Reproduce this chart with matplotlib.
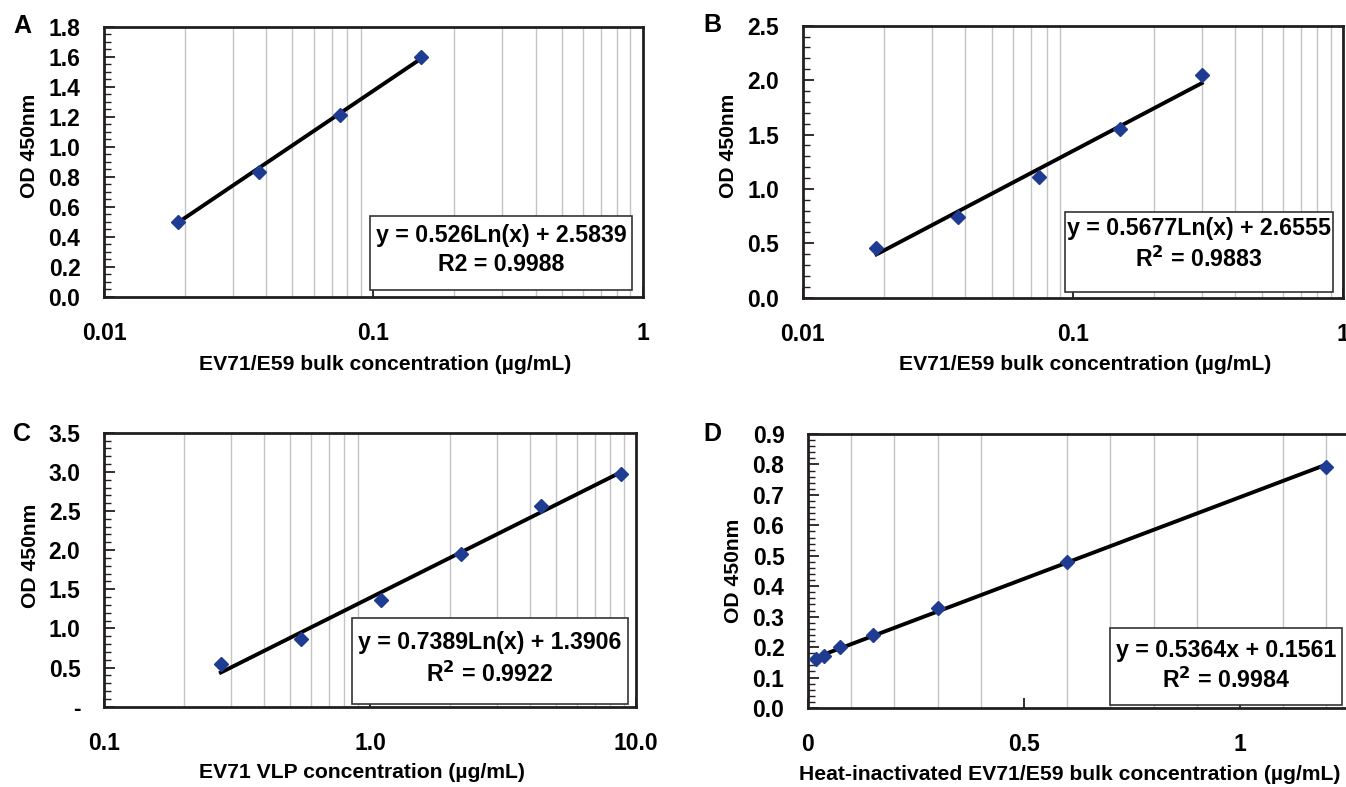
import numpy as np
import matplotlib
matplotlib.use("Agg")
import matplotlib.pyplot as plt
from matplotlib.patches import Rectangle
from matplotlib.ticker import FixedLocator, NullFormatter, MultipleLocator

plt.rcParams['font.family'] = ['Liberation Sans', 'DejaVu Sans']
plt.rcParams['font.weight'] = 'bold'

# ---------------- data ----------------
a_x = [0.01875, 0.0375, 0.075, 0.15]
a_y = [0.50, 0.83, 1.21, 1.60]
a_fit = [0.526, 2.5839]          # y = a*ln(x) + b

b_x = [0.01875, 0.0375, 0.075, 0.15, 0.3]
b_y = [0.46, 0.74, 1.11, 1.55, 2.05]
b_fit = [0.5677, 2.6555]

c_x = [0.275, 0.55, 1.1, 2.2, 4.4, 8.8]
c_y = [0.55, 0.86, 1.36, 1.95, 2.57, 2.97]
c_fit = [0.7389, 1.3906]

d_x = [0.01875, 0.0375, 0.075, 0.15, 0.3, 0.6, 1.2]
d_y = [0.16, 0.17, 0.20, 0.24, 0.33, 0.48, 0.79]
d_fit = [0.5364, 0.1561]         # y = a*x + b

eq_a = ["y = 0.526Ln(x) + 2.5839", "R2 = 0.9988"]
eq_b = ["y = 0.5677Ln(x) + 2.6555", "R$^{2}$ = 0.9883"]
eq_c = ["y = 0.7389Ln(x) + 1.3906", "R$^{2}$ = 0.9922"]
eq_d = ["y = 0.5364x + 0.1561", "R$^{2}$ = 0.9984"]

xlab_ab = "EV71/E59 bulk concentration (µg/mL)"
xlab_c = "EV71 VLP concentration (µg/mL)"
xlab_d = "Heat-inactivated EV71/E59 bulk concentration (µg/mL)"
ylab = "OD 450nm"

W, H = 1346, 787
fig = plt.figure(figsize=(W / 100, H / 100), dpi=100)

MARK = '#1f3c93'
SPINE = '#231f20'
GRID = '#c4c4c4'
TICK_FS = 16.5
LAB_FS = 15.2
EQ_FS = 16.7


def ax_at(l, t, r, b):
    return fig.add_axes([l / W, (H - b) / H, (r - l) / W, (b - t) / H])


def style(ax, ymax, ymaj, ymin, ylabels=None):
    for s in ax.spines.values():
        s.set_linewidth(2.0)
        s.set_color(SPINE)
    ax.set_ylim(0, ymax)
    yt = np.round(np.arange(0, ymax + 1e-9, ymaj), 3)
    ax.set_yticks(yt)
    if ylabels is not None:
        ax.set_yticklabels(ylabels)
    else:
        ax.set_yticklabels([f"{v:.1f}" for v in yt])
    ax.yaxis.set_minor_locator(MultipleLocator(ymin))
    ax.tick_params(axis='y', which='major', direction='in', length=8, width=1.3,
                   color=SPINE, labelsize=TICK_FS, pad=17, right=False)
    ax.tick_params(axis='y', which='minor', direction='in', length=5, width=1.0,
                   color=SPINE, right=False)
    ax.tick_params(axis='x', which='major', direction='in', length=7, width=1.3,
                   color=SPINE, labelsize=TICK_FS, pad=18, top=False)
    ax.tick_params(axis='x', which='minor', length=0, top=False)
    for lab in ax.get_xticklabels() + ax.get_yticklabels():
        lab.set_fontweight('bold')


def log_grid(ax, lo, hi):
    mins = []
    for d in range(lo, hi):
        for k in range(2, 10):
            mins.append(k * 10.0 ** d)
    ax.xaxis.set_minor_locator(FixedLocator(mins))
    ax.xaxis.set_minor_formatter(NullFormatter())
    ax.grid(which='minor', axis='x', color=GRID, lw=1.0)
    ax.set_axisbelow(True)


def eq_box(ax, l, b, r, t, lines, y1, y2):
    ax.add_patch(Rectangle((l, b), r - l, t - b, transform=ax.transAxes,
                           facecolor='white', edgecolor='#333333', lw=1.2, zorder=5))
    cx = (l + r) / 2
    ax.text(cx, y1, lines[0], transform=ax.transAxes, ha='center', va='center',
            fontsize=EQ_FS, fontweight='bold', zorder=6)
    ax.text(cx, y2, lines[1], transform=ax.transAxes, ha='center', va='center',
            fontsize=EQ_FS, fontweight='bold', zorder=6)


def log_fit(ax, xs, coef):
    xx = np.geomspace(min(xs), max(xs), 200)
    ax.plot(xx, coef[0] * np.log(xx) + coef[1], color='black', lw=2.8, zorder=3)


def points(ax, xs, ys):
    ax.plot(xs, ys, linestyle='none', marker='D', ms=7.5, color=MARK,
            markeredgecolor=MARK, zorder=4, clip_on=False)


# ---------------- A ----------------
axA = ax_at(104, 26.7, 642.7, 296.7)
axA.set_xscale('log')
axA.set_xlim(0.01, 1)
axA.set_xticks([0.01, 0.1, 1])
axA.set_xticklabels(['0.01', '0.1', '1'])
log_grid(axA, -2, 0)
style(axA, 1.8, 0.2, 0.05)
log_fit(axA, a_x, a_fit)
points(axA, a_x, a_y)
eq_box(axA, 0.494, 0.025, 0.98, 0.299, eq_a, 0.225, 0.12)

# ---------------- B ----------------
axB = ax_at(802.7, 25.7, 1343, 297.7)
axB.set_xscale('log')
axB.set_xlim(0.01, 1)
axB.set_xticks([0.01, 0.1, 1])
axB.set_xticklabels(['0.01', '0.1', '1'])
log_grid(axB, -2, 0)
style(axB, 2.5, 0.5, 0.1)
log_fit(axB, b_x, b_fit)
points(axB, b_x, b_y)
eq_box(axB, 0.485, 0.021, 0.981, 0.315, eq_b, 0.255, 0.14)

# ---------------- C ----------------
axC = ax_at(104, 432.7, 636, 706.7)
axC.set_xscale('log')
axC.set_xlim(0.1, 10)
axC.set_xticks([0.1, 1, 10])
axC.set_xticklabels(['0.1', '1.0', '10.0'])
log_grid(axC, -1, 1)
c_yt = ['-', '0.5', '1.0', '1.5', '2.0', '2.5', '3.0', '3.5']
style(axC, 3.5, 0.5, 0.1, c_yt)
log_fit(axC, c_x, c_fit)
points(axC, c_x, c_y)
eq_box(axC, 0.466, 0.01, 0.985, 0.324, eq_c, 0.235, 0.12)

# ---------------- D ----------------
axD = ax_at(808, 434, 808 + 561.6, 708)
axD.set_xlim(0, 1.3)
axD.set_xticks([0, 0.5, 1])
axD.set_xticklabels(['0', '0.5', '1'])
axD.xaxis.set_minor_locator(FixedLocator([0.1, 0.2, 0.3, 0.4, 0.6, 0.7, 0.8, 0.9, 1.0, 1.1, 1.2]))
axD.grid(which='minor', axis='x', color=GRID, lw=1.0)
axD.set_axisbelow(True)
style(axD, 0.9, 0.1, 0.02)
xx = np.linspace(min(d_x), max(d_x), 50)
axD.plot(xx, d_fit[0] * xx + d_fit[1], color='black', lw=2.8, zorder=3)
points(axD, d_x, d_y)
axD.spines['right'].set_visible(False)
eq_box(axD, 0.699 * 432 / 561.6, 0.011, 1.235 * 432 / 561.6, 0.292, eq_d, 0.21, 0.1)

# ---------------- labels ----------------
for ax in (axA, axB, axC, axD):
    ax.set_ylabel(ylab, fontsize=LAB_FS, fontweight='bold')

axA.yaxis.set_label_coords(-0.12, 0.56)
axB.yaxis.set_label_coords(-0.12, 0.56)
axC.yaxis.set_label_coords(-0.12, 0.55)
axD.yaxis.set_label_coords(-0.115, 0.5)

fig.text(385 / W, 1 - 365 / H, xlab_ab, ha='center', va='center', fontsize=LAB_FS, fontweight='bold')
fig.text(1085 / W, 1 - 365 / H, xlab_ab, ha='center', va='center', fontsize=LAB_FS, fontweight='bold')
fig.text(362 / W, 1 - 773 / H, xlab_c, ha='center', va='center', fontsize=LAB_FS, fontweight='bold')
fig.text(1070 / W, 1 - 775 / H, xlab_d, ha='center', va='center', fontsize=LAB_FS, fontweight='bold')

for letter, x, y in (("A", 22, 26), ("B", 712, 25), ("C", 22, 434), ("D", 712, 434)):
    fig.text(x / W, 1 - y / H, letter, ha='center', va='center', fontsize=18, fontweight='bold')

fig.savefig('out.png', dpi=100)
